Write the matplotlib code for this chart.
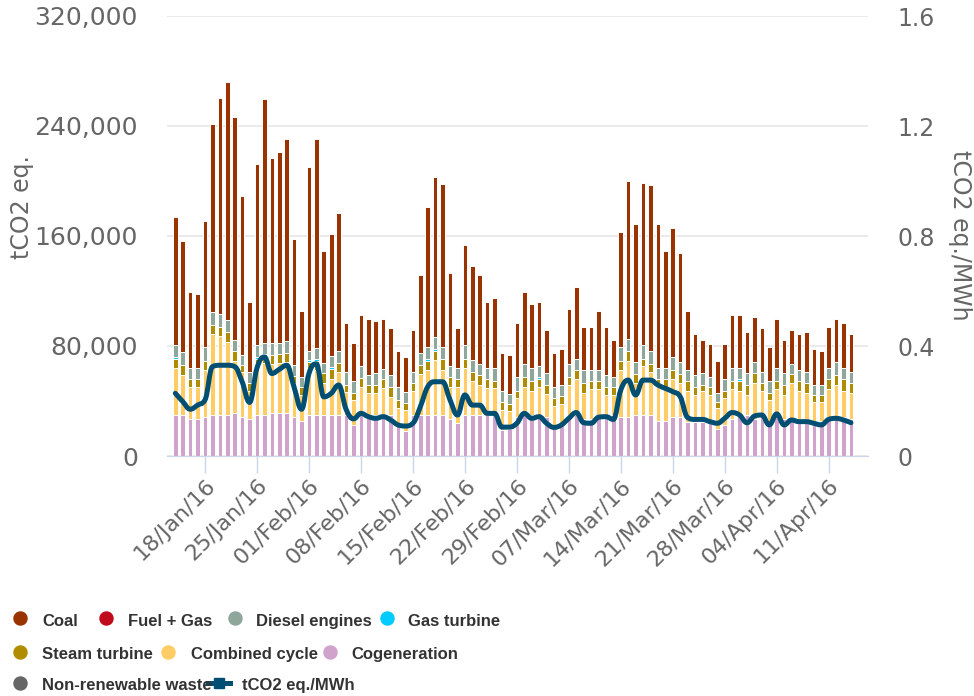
import numpy as np
import pandas as pd
import matplotlib
matplotlib.use('Agg')
import matplotlib.pyplot as plt
import matplotlib.dates as mdates
from matplotlib.path import Path
from matplotlib.patches import PathPatch
from matplotlib.lines import Line2D
from matplotlib.ticker import FuncFormatter

# daily values, 14/Jan/16 .. 14/Apr/16 (thousand tCO2 eq.)
days = pd.date_range('2016-01-14', '2016-04-14', freq='D')

cogeneration = [29.6, 29.6, 27.1, 27.1, 28.1, 29.6, 29.6, 29.6, 31.0, 28.1,
                26.7, 29.6, 29.6, 31.0, 31.0, 31.0, 28.1, 25.2, 29.6, 29.6,
                29.6, 29.6, 29.6, 29.6, 22.5, 29.6, 29.6, 29.6, 29.6, 29.6,
                23.8, 18.4, 29.6, 29.6, 29.6, 29.6, 29.6, 26.7, 24.2, 29.6,
                29.6, 29.6, 29.6, 29.6, 19.2, 19.9, 28.1, 29.6, 29.6, 29.6,
                28.1, 21.3, 24.2, 29.6, 29.6, 26.7, 26.7, 29.6, 29.6, 29.6,
                28.1, 28.1, 29.6, 29.6, 29.6, 25.7, 25.7, 28.1, 28.1, 24.7,
                24.7, 24.7, 24.7, 19.9, 22.8, 26.7, 29.6, 29.6, 26.7, 28.1,
                22.8, 29.6, 26.7, 26.7, 26.7, 26.7, 25.2, 25.2, 28.1, 28.1,
                28.1, 26.7]
combined_cycle = [34.2, 29.1, 23.1, 23.1, 34.4, 59.1, 57.9, 53.5, 38.3, 33.0,
                  20.6, 34.6, 37.8, 35.9, 36.4, 37.1, 25.0, 19.2, 31.7, 32.9,
                  23.2, 26.2, 31.7, 16.7, 18.2, 20.8, 16.5, 16.5, 19.6, 13.5,
                  11.3, 15.3, 17.9, 30.0, 32.9, 40.0, 32.9, 23.7, 26.2, 34.4,
                  24.7, 22.3, 19.6, 19.6, 14.5, 12.6, 13.8, 20.8, 17.9, 20.8,
                  17.0, 15.1, 13.6, 22.0, 26.2, 19.4, 22.3, 19.4, 15.0, 15.0,
                  34.4, 41.2, 23.2, 35.8, 31.5, 24.7, 24.7, 27.7, 24.7, 22.8,
                  19.9, 22.8, 19.9, 15.2, 19.1, 22.3, 17.9, 15.0, 26.1, 19.4,
                  17.9, 19.4, 17.9, 26.1, 20.8, 19.4, 14.1, 14.1, 20.9, 23.5,
                  19.4, 19.4]
steam_turbine = [7.0, 7.7, 5.6, 5.6, 6.8, 6.8, 6.6, 6.8, 7.1, 5.0,
                 5.5, 6.6, 5.6, 6.5, 6.8, 7.0, 5.0, 5.5, 6.8, 6.8,
                 7.3, 7.2, 6.1, 5.3, 5.4, 6.6, 5.3, 5.5, 6.6, 7.3,
                 5.6, 4.6, 5.3, 6.8, 6.8, 6.8, 8.3, 6.8, 5.4, 6.8,
                 6.8, 6.8, 6.6, 5.1, 5.6, 5.3, 5.6, 6.8, 6.8, 5.4,
                 6.5, 5.5, 5.6, 5.6, 6.7, 6.7, 5.3, 5.3, 5.8, 5.3,
                 6.8, 7.1, 6.8, 5.4, 5.8, 5.4, 5.4, 6.7, 6.8, 6.8,
                 5.8, 4.1, 5.3, 4.2, 5.6, 5.3, 6.8, 7.0, 7.3, 5.3,
                 5.4, 5.3, 7.0, 6.8, 6.8, 6.7, 5.3, 5.3, 6.8, 7.1,
                 8.3, 6.7]
gas_turbine = [1.5, 0, 0, 0, 0, 0, 0, 0, 0, 0,
               0, 1.5, 1.5, 0, 0, 0, 0, 0, 1.5, 1.5,
               0, 1.5, 0, 0, 0, 0, 0, 0, 0, 0,
               0, 0, 0, 0, 1.5, 1.5, 0, 0, 0, 0,
               0, 0, 0, 0, 0, 0, 0, 0, 0, 1.5,
               0, 0, 0, 0, 0, 0, 0, 0, 0, 0,
               0, 0, 0, 0, 0, 0, 0, 0, 0, 0,
               0, 0, 0, 0, 0, 0, 1.5, 0, 0, 0,
               0, 0, 0, 0, 0, 0, 0, 0, 0, 0,
               0, 0]
diesel = [8.2, 9.2, 8.4, 8.4, 10.2, 9.0, 8.9, 9.0, 8.2, 7.0,
          8.5, 8.4, 7.9, 8.5, 7.7, 8.3, 8.0, 7.3, 7.0, 7.5,
          7.8, 8.2, 9.2, 9.7, 8.7, 8.4, 7.3, 8.5, 7.2, 8.3,
          9.7, 8.2, 8.5, 8.7, 8.7, 8.4, 8.7, 8.2, 8.4, 9.9,
          8.5, 8.2, 8.4, 9.9, 8.2, 7.3, 9.7, 9.7, 9.9, 8.1,
          8.5, 8.5, 8.5, 9.7, 8.3, 10.0, 8.5, 8.5, 8.3, 7.3,
          10.2, 8.4, 8.5, 9.9, 9.5, 8.4, 8.4, 9.7, 8.5, 8.2,
          8.3, 8.5, 7.3, 6.8, 8.3, 9.7, 8.2, 8.5, 8.0, 8.3,
          8.2, 9.7, 8.5, 7.3, 8.5, 8.3, 7.0, 7.0, 8.2, 9.4,
          8.2, 8.3]
coal = [93.5, 80.5, 54.8, 53.4, 91.6, 136.9, 157.6, 172.8, 162.2, 116.0,
        50.9, 131.7, 177.0, 134.8, 138.9, 146.9, 91.5, 48.0, 133.3, 152.2,
        81.2, 88.7, 99.9, 35.6, 27.1, 37.1, 41.2, 38.3, 36.9, 34.4,
        26.0, 25.7, 30.3, 56.3, 101.6, 116.6, 118.1, 67.5, 28.6, 72.7,
        68.6, 64.5, 48.0, 50.5, 27.4, 28.4, 39.7, 52.1, 46.3, 46.6,
        31.5, 24.5, 25.7, 39.8, 52.3, 31.3, 31.3, 42.4, 35.4, 27.2,
        83.4, 115.2, 100.4, 117.8, 120.9, 104.3, 84.9, 93.4, 79.8, 42.7,
        30.0, 24.3, 24.5, 23.2, 25.9, 38.3, 38.3, 29.8, 32.8, 31.7,
        24.7, 35.6, 24.3, 24.5, 25.9, 28.8, 26.0, 24.8, 30.1, 31.5,
        32.9, 27.6]
# tCO2 eq./MWh
intensity = [0.228, 0.198, 0.170, 0.185, 0.204, 0.325, 0.330, 0.330, 0.325, 0.270,
             0.195, 0.320, 0.360, 0.300, 0.315, 0.330, 0.250, 0.170, 0.300, 0.335,
             0.215, 0.228, 0.258, 0.170, 0.135, 0.155, 0.143, 0.137, 0.143, 0.131,
             0.113, 0.109, 0.119, 0.179, 0.252, 0.270, 0.270, 0.204, 0.149, 0.222,
             0.185, 0.185, 0.155, 0.155, 0.105, 0.105, 0.119, 0.155, 0.137, 0.143,
             0.119, 0.104, 0.113, 0.137, 0.158, 0.121, 0.119, 0.141, 0.143, 0.133,
             0.240, 0.276, 0.222, 0.276, 0.276, 0.258, 0.246, 0.234, 0.216, 0.140,
             0.133, 0.133, 0.125, 0.119, 0.137, 0.158, 0.149, 0.121, 0.145, 0.149,
             0.113, 0.153, 0.113, 0.131, 0.125, 0.125, 0.119, 0.113, 0.133, 0.137,
             0.131, 0.121]

# bottom -> top
stack = [
    ('Cogeneration', cogeneration, '#CFA3CC'),
    ('Combined cycle', combined_cycle, '#FFCC66'),
    ('Steam turbine', steam_turbine, '#B08D00'),
    ('Gas turbine', gas_turbine, '#00CCFF'),
    ('Diesel engines', diesel, '#8FA69B'),
    ('Coal', coal, '#993300'),
]

txt = '#666666'
fig = plt.figure(figsize=(9.74, 6.96), dpi=100)
ax = fig.add_axes([167/974, 1-456/696, 701/974, 440/696])
ax2 = ax.twinx()

x = mdates.date2num(days)
bottom = np.zeros(len(x))
for name, vals, col in stack:
    v = np.array(vals) * 1000
    ax.bar(x, v, bottom=bottom, width=0.62, color=col, edgecolor='white', linewidth=0.7, zorder=2)
    bottom += v

# spline like the original (cubic bezier through each point)
def spline_path(xs, ys, sm=1.5):
    n = len(xs)
    lc = [(xs[i], ys[i]) for i in range(n)]
    rc = [(xs[i], ys[i]) for i in range(n)]
    for i in range(1, n-1):
        px, py = xs[i], ys[i]
        lx, ly = xs[i-1], ys[i-1]
        nx, ny = xs[i+1], ys[i+1]
        d = sm + 1
        lcx, lcy = (sm*px + lx)/d, (sm*py + ly)/d
        rcx, rcy = (sm*px + nx)/d, (sm*py + ny)/d
        corr = (rcy - lcy)*(rcx - px)/(rcx - lcx) + py - rcy
        lcy += corr
        rcy += corr
        if lcy > ly and lcy > py:
            lcy = max(ly, py); rcy = 2*py - lcy
        elif lcy < ly and lcy < py:
            lcy = min(ly, py); rcy = 2*py - lcy
        if rcy > ny and rcy > py:
            rcy = max(ny, py); lcy = 2*py - rcy
        elif rcy < ny and rcy < py:
            rcy = min(ny, py); lcy = 2*py - rcy
        lc[i] = (lcx, lcy)
        rc[i] = (rcx, rcy)
    verts = [(xs[0], ys[0])]
    codes = [Path.MOVETO]
    for i in range(1, n):
        verts += [rc[i-1], lc[i], (xs[i], ys[i])]
        codes += [Path.CURVE4]*3
    return Path(verts, codes)

line_col = '#004F73'
ax2.add_patch(PathPatch(spline_path(list(x), intensity), fill=False, edgecolor=line_col,
                        lw=3.6, capstyle='round', joinstyle='round', zorder=3))

t0 = mdates.date2num(pd.Timestamp('2016-01-18'))
ax.set_xlim(t0 - 5.12, t0 + 89.3)
ax.set_ylim(0, 320000)
ax2.set_ylim(0, 1.6)

ax.set_yticks([0, 80000, 160000, 240000, 320000])
ax.yaxis.set_major_formatter(FuncFormatter(lambda v, p: '{:,.0f}'.format(v)))
ax2.set_yticks([0, 0.4, 0.8, 1.2, 1.6])
ax2.set_yticklabels(['0', '0.4', '0.8', '1.2', '1.6'])
ax.tick_params(axis='y', length=0, pad=21, labelsize=18, labelcolor=txt)
ax2.tick_params(axis='y', length=0, pad=21, labelsize=17, labelcolor=txt)

ax.xaxis.set_major_locator(mdates.WeekdayLocator(byweekday=mdates.MO))
ax.xaxis.set_major_formatter(mdates.DateFormatter('%d/%b/%y'))
ax.tick_params(axis='x', length=12, width=1, color='#ccd6eb', pad=2, labelsize=16, labelcolor=txt)
for lab in ax.get_xticklabels():
    lab.set_rotation(45)
    lab.set_ha('right')
    lab.set_va('top')
    lab.set_rotation_mode('anchor')

ax.yaxis.grid(True, color='#e6e6e6', lw=1.2)
ax.set_axisbelow(True)
for s in ['top', 'left', 'right']:
    ax.spines[s].set_visible(False)
ax.spines['bottom'].set_color('#ccd6eb')
for s in ax2.spines.values():
    s.set_visible(False)

fig.text(22/974, 1-207/696, 'tCO2 eq.', rotation=90, ha='center', va='center', fontsize=17, color=txt)
fig.text(960/974, 1-235/696, 'tCO2 eq./MWh', rotation=270, ha='center', va='center', fontsize=17, color=txt)

# legend, laid out like the original (three rows)
leg_font = ['Liberation Sans', 'DejaVu Sans']
legend_items = [
    (20, 618, 626, 42, 'Coal', '#993300'),
    (106, 618, 626, 128, 'Fuel + Gas', '#BF0B1B'),
    (235, 618, 626, 256, 'Diesel engines', '#8FA69B'),
    (387, 618, 626, 408, 'Gas turbine', '#00CCFF'),
    (20, 652, 659, 42, 'Steam turbine', '#B08D00'),
    (168, 652, 659, 191, 'Combined cycle', '#FFCC66'),
    (330, 652, 659, 351, 'Cogeneration', '#CFA3CC'),
    (20, 683, 690, 42, 'Non-renewable waste', '#666666'),
]
for mx, my, by, tx, name, col in legend_items:
    fig.add_artist(Line2D([mx/974], [1-my/696], marker='o', ms=9.4, color=col,
                          linestyle='none', transform=fig.transFigure))
    fig.text(tx/974, 1-by/696, name, fontsize=12, fontweight='bold', color='#333333',
             family=leg_font, ha='left', va='baseline')
fig.add_artist(Line2D([208/974, 230/974], [1-683/696, 1-683/696], lw=3.6, color=line_col,
                      transform=fig.transFigure))
fig.add_artist(Line2D([219/974], [1-683/696], marker='s', ms=7.5, color=line_col,
                      linestyle='none', transform=fig.transFigure))
fig.text(242/974, 1-690/696, 'tCO2 eq./MWh', fontsize=12, fontweight='bold', color='#333333',
         family=leg_font, ha='left', va='baseline')

fig.savefig('out.png', dpi=100)
